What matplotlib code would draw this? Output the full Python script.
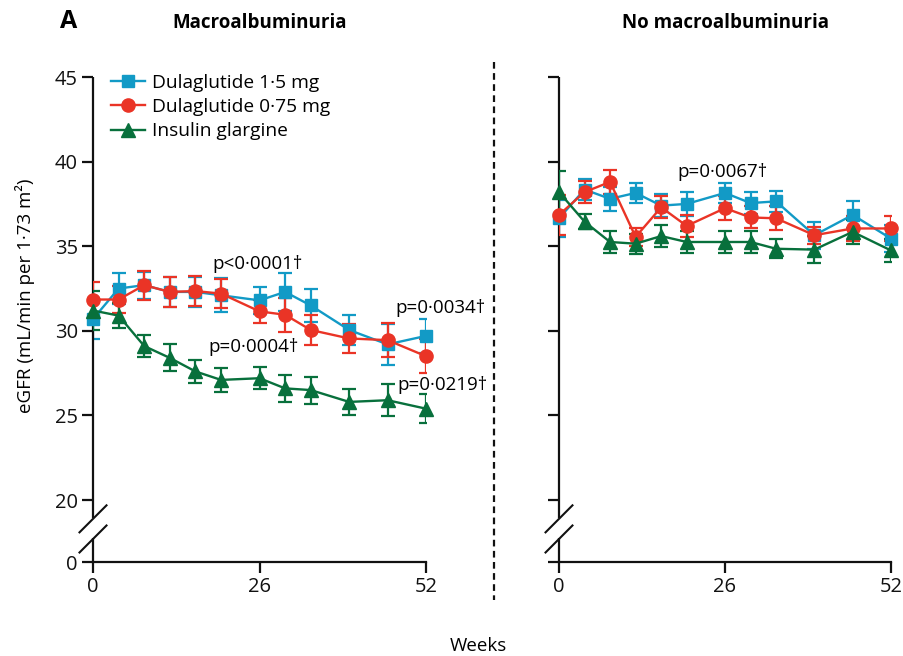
import matplotlib
matplotlib.use("Agg")
import matplotlib.pyplot as plt
import matplotlib.transforms as mtransforms
from matplotlib.lines import Line2D

plt.rcParams['font.family'] = ['Open Sans', 'DejaVu Sans']

# ---- data -------------------------------------------------------------
weeks = [0, 4, 8, 12, 16, 20, 26, 30, 34, 40, 46, 52]
xticks = [0, 26, 52]
yticks = [20, 25, 30, 35, 40, 45]

series_names = ["Dulaglutide 1·5 mg", "Dulaglutide 0·75 mg", "Insulin glargine"]

# Macroalbuminuria
macro_dula15 = [30.7, 32.5, 32.7, 32.3, 32.3, 32.1, 31.8, 32.3, 31.5, 30.05, 29.2, 29.7]
macro_dula15_se = [1.2, 0.9, 0.8, 0.9, 0.9, 1.0, 0.8, 1.1, 1.0, 0.9, 1.2, 1.0]
macro_dula075 = [31.85, 31.85, 32.7, 32.3, 32.35, 32.2, 31.15, 30.95, 30.05, 29.55, 29.45, 28.5]
macro_dula075_se = [1.05, 0.8, 0.85, 0.9, 0.9, 0.85, 0.7, 1.0, 0.9, 0.85, 1.0, 1.0]
macro_glargine = [31.2, 30.9, 29.1, 28.4, 27.6, 27.1, 27.2, 26.6, 26.5, 25.8, 25.9, 25.4]
macro_glargine_se = [1.15, 0.75, 0.65, 0.8, 0.7, 0.7, 0.65, 0.8, 0.8, 0.75, 0.95, 0.85]

# No macroalbuminuria
nomacro_dula15 = [36.65, 38.35, 37.8, 38.15, 37.4, 37.5, 38.15, 37.55, 37.65, 35.65, 36.85, 35.45]
nomacro_dula15_se = [1.1, 0.6, 0.7, 0.6, 0.7, 0.7, 0.6, 0.65, 0.6, 0.8, 0.8, 0.8]
nomacro_dula075 = [36.85, 38.2, 38.8, 35.55, 37.3, 36.2, 37.25, 36.7, 36.65, 35.65, 36.05, 36.05]
nomacro_dula075_se = [1.2, 0.67, 0.7, 0.55, 0.65, 0.65, 0.7, 0.65, 0.7, 0.5, 0.75, 0.75]
nomacro_glargine = [38.2, 36.45, 35.25, 35.15, 35.6, 35.25, 35.25, 35.25, 34.85, 34.8, 35.85, 34.75]
nomacro_glargine_se = [1.25, 0.45, 0.65, 0.6, 0.65, 0.65, 0.65, 0.65, 0.55, 0.8, 0.7, 0.7]

# ---- styling ----------------------------------------------------------
colors = ["#129ac6", "#ea3426", "#08703c"]
markers = ["s", "o", "^"]
msizes = [8.5, 9.5, 9.5]

Y_ZERO = 16.34          # position used for the "0" below the axis break
BREAK_HI, BREAK_LO = 18.94, 17.75

fig = plt.figure(figsize=(9.04, 6.56), dpi=100)
axL = fig.add_axes([93 / 904, 1 - 562 / 656, 333 / 904, 485 / 656])
axR = fig.add_axes([559 / 904, 1 - 562 / 656, 332 / 904, 485 / 656])

LW_AX = 1.6


def draw_panel(ax, means, ses, show_ylabels):
    for i, (m, s) in enumerate(zip(means, ses)):
        ax.errorbar(weeks, m, yerr=s, fmt="none", ecolor=colors[i],
                    elinewidth=1.6, capsize=5, capthick=1.6, zorder=2 + i)
        ax.plot(weeks, m, color=colors[i], lw=1.7, marker=markers[i],
                ms=msizes[i], mec=colors[i], mfc=colors[i], zorder=5 + i,
                label=series_names[i], clip_on=False)
    ax.set_xlim(0, 52)
    ax.set_ylim(Y_ZERO, 45)
    ax.set_xticks(xticks)
    ax.set_xticklabels([str(t) for t in xticks])
    ax.set_yticks([Y_ZERO] + yticks)
    if show_ylabels:
        ax.set_yticklabels(["0"] + [str(t) for t in yticks])
    else:
        ax.set_yticklabels([""] * (len(yticks) + 1))
    ax.tick_params(direction="out", length=8, width=LW_AX, labelsize=14.5,
                   pad=3, colors="#111111")
    for side in ("top", "right", "left"):
        ax.spines[side].set_visible(False)
    ax.spines["bottom"].set_linewidth(LW_AX)
    ax.spines["bottom"].set_color("#111111")

    # broken left spine with two slashes
    tr = mtransforms.blended_transform_factory(ax.transAxes, ax.transData)
    ax.plot([0, 0], [BREAK_HI, 45], transform=tr, color="#111111",
            lw=LW_AX, clip_on=False, solid_capstyle="butt")
    ax.plot([0, 0], [Y_ZERO, BREAK_LO], transform=tr, color="#111111",
            lw=LW_AX, clip_on=False, solid_capstyle="butt")
    dx = 13.5 / 333
    dy = 13.5 / 16.92
    for yc in (BREAK_HI - 0.05, BREAK_LO - 0.05):
        ax.plot([-dx, dx], [yc - dy, yc + dy], transform=tr, color="#111111",
                lw=1.5, clip_on=False)


draw_panel(axL,
           [macro_dula15, macro_dula075, macro_glargine],
           [macro_dula15_se, macro_dula075_se, macro_glargine_se], True)
draw_panel(axR,
           [nomacro_dula15, nomacro_dula075, nomacro_glargine],
           [nomacro_dula15_se, nomacro_dula075_se, nomacro_glargine_se], False)

# legend
handles = [Line2D([], [], color=colors[i], lw=1.7, marker=markers[i],
                  ms=msizes[i], mec=colors[i], mfc=colors[i])
           for i in range(3)]
axL.legend(handles, series_names, loc="upper left", bbox_to_anchor=(0.03, 1.022),
           frameon=False, fontsize=13.8, handlelength=1.8, handletextpad=0.35,
           labelspacing=0.32, borderaxespad=0)

# p-values
pfs = 13.5
axL.text(18.7, 33.65, "p<0·0001†", fontsize=pfs, va="baseline")
axL.text(17.96, 28.76, "p=0·0004†", fontsize=pfs, va="baseline")
axL.text(47.2, 31.05, "p=0·0034†", fontsize=pfs, va="baseline", clip_on=False)
axL.text(47.6, 26.5, "p=0·0219†", fontsize=pfs, va="baseline", clip_on=False)
axR.text(18.6, 39.1, "p=0·0067†", fontsize=pfs, va="baseline")

# titles and labels
fig.text(60 / 904, 1 - 28 / 656, "A", fontsize=18, fontweight="bold",
         va="baseline", ha="left")
fig.text(259.5 / 904, 1 - 28 / 656, "Macroalbuminuria", fontsize=13.5,
         fontweight="bold", va="baseline", ha="center")
fig.text(725 / 904, 1 - 28 / 656, "No macroalbuminuria", fontsize=13.5,
         fontweight="bold", va="baseline", ha="center")
fig.text(25 / 904, 1 - 296 / 656, "eGFR (mL/min per 1·73 m²)", fontsize=13.5,
         rotation=90, va="center", ha="center")
fig.text(478 / 904, 1 - 646 / 656, "Weeks", fontsize=13.5, va="center",
         ha="center")

# dashed divider between panels
fig.add_artist(Line2D([494 / 904, 494 / 904], [1 - 62 / 656, 1 - 600 / 656],
                      transform=fig.transFigure, color="#111111", lw=1.6,
                      linestyle=(0, (3, 2))))

fig.savefig("out.png", dpi=100)
